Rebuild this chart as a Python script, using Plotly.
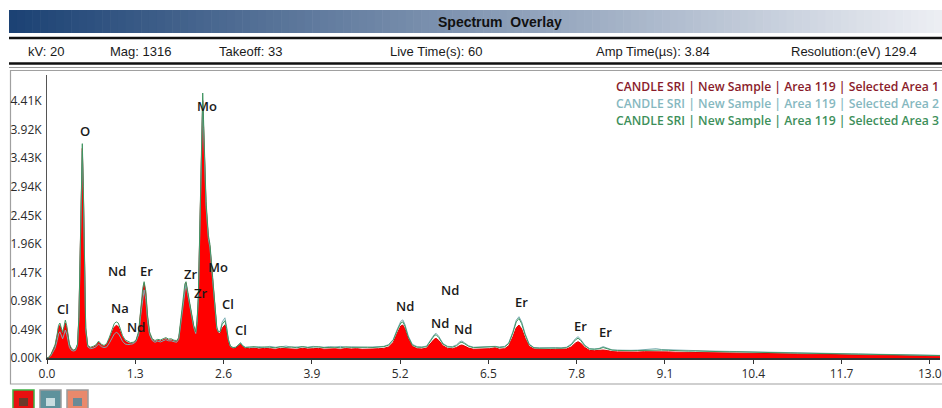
import plotly.graph_objects as go

# ---------------- data ----------------
energy_kev = [
    0.00, 0.03, 0.06, 0.09, 0.12, 0.15, 0.17, 0.19, 0.21, 0.23, 0.25, 0.27, 0.29, 0.31, 0.33, 0.36, 0.39, 0.42, 0.45, 0.47,
    0.49, 0.51, 0.52, 0.535, 0.55, 0.57, 0.60, 0.64, 0.68, 0.72, 0.76, 0.80, 0.84, 0.88, 0.92, 0.96, 0.99, 1.02, 1.05, 1.08,
    1.11, 1.15, 1.19, 1.23, 1.27, 1.31, 1.35, 1.38, 1.41, 1.43, 1.455, 1.48, 1.51, 1.55, 1.59, 1.63, 1.67, 1.71, 1.75, 1.79,
    1.83, 1.87, 1.91, 1.94, 1.97, 2.00, 2.03, 2.047, 2.07, 2.10, 2.13, 2.16, 2.19, 2.21, 2.228, 2.245, 2.264, 2.28, 2.293, 2.305,
    2.317, 2.342, 2.376, 2.40, 2.44, 2.474, 2.50, 2.523, 2.55, 2.58, 2.62, 2.645, 2.67, 2.70, 2.74, 2.78, 2.82, 2.85, 2.88, 2.92,
    2.98, 3.05, 3.12, 3.20, 3.28, 3.36, 3.44, 3.52, 3.60, 3.68, 3.76, 3.84, 3.92, 4.00, 4.08, 4.16, 4.24, 4.32, 4.40, 4.48,
    4.56, 4.64, 4.72, 4.80, 4.88, 4.96, 5.03, 5.10, 5.16, 5.21, 5.24, 5.27, 5.32, 5.38, 5.45, 5.52, 5.59, 5.65, 5.70, 5.73,
    5.77, 5.83, 5.90, 5.97, 6.03, 6.08, 6.11, 6.15, 6.21, 6.28, 6.36, 6.44, 6.52, 6.60, 6.66, 6.74, 6.80, 6.86, 6.91, 6.95,
    6.99, 7.04, 7.10, 7.17, 7.25, 7.33, 7.41, 7.49, 7.57, 7.65, 7.72, 7.78, 7.82, 7.86, 7.92, 7.99, 8.06, 8.13, 8.19, 8.25,
    8.32, 8.40, 8.50, 8.60, 8.70, 8.80, 8.90, 8.97, 9.05, 9.15, 9.25, 9.35, 9.45, 9.55, 9.65, 9.75, 9.85, 9.95, 10.05, 10.15,
    10.25, 10.35, 10.45, 10.55, 10.65, 10.75, 10.85, 10.95, 11.05, 11.15, 11.25, 11.35, 11.45, 11.55, 11.65, 11.75, 11.85, 11.95, 12.05, 12.15,
    12.25, 12.35, 12.45, 12.55, 12.65, 12.75, 12.85, 12.95, 13.05, 13.15,
]

counts_area1 = [
    0, 15, 60, 140, 210, 380, 520, 560, 470, 410, 500, 600, 520, 330, 220, 150, 130, 140, 230, 700,
    1900, 3200, 3600, 2900, 1500, 500, 200, 170, 185, 210, 270, 220, 200, 230, 330, 450, 530, 560, 540, 450,
    360, 290, 260, 250, 255, 290, 430, 800, 1150, 1280, 1100, 700, 420, 310, 280, 300, 290, 310, 330, 305,
    310, 290, 280, 330, 600, 960, 1230, 1290, 1120, 900, 720, 540, 430, 620, 1000, 1800, 2900, 3900, 4420, 4000,
    3450, 2620, 2060, 1900, 1340, 770, 500, 430, 420, 510, 570, 470, 300, 190, 165, 170, 210, 240, 200, 165,
    160, 170, 155, 165, 160, 150, 165, 158, 162, 150, 168, 155, 160, 165, 152, 160, 158, 150, 162, 155,
    160, 150, 158, 155, 160, 165, 190, 270, 430, 550, 566, 500, 330, 200, 160, 155, 170, 250, 320, 338,
    300, 210, 165, 160, 180, 215, 223, 205, 170, 150, 155, 148, 160, 175, 152, 160, 210, 360, 520, 566,
    500, 340, 200, 155, 150, 152, 145, 150, 148, 155, 190, 255, 280, 255, 180, 130, 125, 130, 137, 128,
    110, 105, 100, 105, 102, 108, 110, 112, 108, 105, 100, 98, 95, 97, 92, 90, 92, 88, 85, 86,
    82, 80, 78, 80, 75, 72, 74, 70, 68, 66, 65, 62, 60, 61, 58, 56, 55, 53, 50, 49,
    47, 45, 44, 42, 40, 38, 36, 35, 33, 32,
]

counts_area2 = [
    0, 10, 45, 110, 170, 300, 410, 450, 370, 330, 400, 480, 410, 270, 180, 130, 120, 130, 220, 680,
    1850, 3150, 3550, 2850, 1450, 480, 190, 160, 170, 190, 240, 195, 180, 190, 260, 350, 410, 440, 420, 360,
    290, 240, 230, 235, 245, 280, 400, 730, 1050, 1170, 1010, 650, 400, 300, 270, 290, 275, 300, 315, 295,
    295, 280, 270, 320, 590, 950, 1220, 1280, 1110, 890, 710, 530, 420, 610, 990, 1780, 2870, 3860, 4380, 3960,
    3420, 2600, 2050, 1890, 1330, 780, 510, 450, 460, 620, 690, 540, 320, 200, 175, 185, 230, 265, 215, 185,
    190, 185, 195, 180, 200, 185, 190, 205, 185, 190, 195, 185, 200, 190, 185, 195, 188, 200, 186, 192,
    188, 196, 184, 190, 195, 200, 230, 320, 500, 630, 655, 580, 380, 235, 195, 190, 205, 310, 400, 424,
    370, 250, 200, 195, 225, 280, 292, 260, 210, 185, 190, 185, 195, 200, 190, 200, 260, 450, 650, 709,
    620, 420, 240, 180, 175, 180, 172, 178, 175, 185, 240, 330, 366, 320, 220, 160, 155, 165, 195, 170,
    140, 135, 128, 132, 135, 140, 150, 160, 145, 140, 135, 130, 126, 130, 124, 120, 118, 115, 112, 110,
    108, 106, 104, 100, 98, 96, 95, 92, 90, 87, 85, 82, 80, 78, 76, 74, 72, 70, 68, 66,
    63, 61, 60, 57, 55, 53, 50, 48, 46, 45,
]

counts_area3 = [
    0, 15, 65, 150, 230, 410, 560, 600, 500, 440, 540, 650, 560, 350, 240, 165, 140, 150, 240, 720,
    1950, 3300, 3680, 2950, 1550, 520, 215, 185, 200, 225, 290, 235, 215, 250, 360, 500, 590, 620, 600, 500,
    390, 310, 280, 265, 270, 305, 460, 850, 1200, 1310, 1150, 740, 450, 330, 300, 320, 310, 330, 350, 325,
    330, 305, 300, 350, 630, 990, 1270, 1310, 1150, 930, 745, 560, 450, 650, 1040, 1870, 2980, 4050, 4550, 4100,
    3540, 2690, 2110, 1950, 1380, 800, 530, 455, 450, 580, 640, 510, 320, 205, 180, 185, 225, 255, 210, 180,
    185, 195, 180, 190, 185, 175, 195, 180, 190, 175, 195, 180, 188, 192, 178, 186, 184, 176, 190, 182,
    186, 178, 185, 180, 188, 195, 220, 310, 480, 600, 620, 550, 360, 220, 185, 182, 195, 290, 380, 400,
    350, 240, 190, 185, 210, 260, 270, 245, 200, 178, 182, 175, 188, 195, 180, 190, 250, 430, 620, 680,
    590, 400, 230, 175, 168, 172, 165, 170, 168, 178, 225, 310, 340, 300, 210, 155, 150, 158, 180, 160,
    135, 130, 122, 126, 128, 132, 138, 140, 135, 132, 125, 122, 118, 120, 115, 112, 114, 108, 105, 106,
    102, 100, 96, 98, 92, 90, 91, 86, 84, 82, 80, 78, 75, 74, 72, 70, 68, 66, 63, 62,
    60, 58, 56, 54, 52, 50, 47, 45, 43, 42,
]

series_names = [
    "CANDLE SRI | New Sample | Area 119 | Selected Area 1",
    "CANDLE SRI | New Sample | Area 119 | Selected Area 2",
    "CANDLE SRI | New Sample | Area 119 | Selected Area 3",
]

y_tick_values = [0, 490, 980, 1470, 1960, 2450, 2940, 3430, 3920, 4410]
y_tick_labels = ["0.00K", "0.49K", "0.98K", "1.47K", "1.96K", "2.45K", "2.94K", "3.43K", "3.92K", "4.41K"]
x_tick_values = [0.0, 1.3, 2.6, 3.9, 5.2, 6.5, 7.8, 9.1, 10.4, 11.7, 13.0]

peak_labels = ["O", "Mo", "Nd", "Er", "Na", "Nd", "Cl", "Zr", "Zr", "Mo", "Cl", "Cl",
               "Nd", "Nd", "Nd", "Nd", "Er", "Er", "Er"]
peak_label_kev = [0.56, 2.36, 1.035, 1.458, 1.075, 1.311, 0.24, 2.106, 2.253, 2.523, 2.661, 2.853,
                  5.272, 5.935, 5.788, 6.131, 6.991, 7.86, 8.228]
peak_label_counts = [3894, 4335, 1502, 1490, 862, 536, 845, 1434, 1120, 1559, 919, 489,
                     889, 1164, 604, 506, 958, 558, 450]

info_items = ["kV: 20", "Mag: 1316", "Takeoff: 33", "Live Time(s): 60", "Amp Time(µs): 3.84", "Resolution:(eV) 129.4"]

# ---------------- layout helpers (pixel -> paper) ----------------
W, H = 942, 408
L, R, T, B = 47, 940, 75, 358


def px(x):
    return (x - L) / (R - L)


def py(y):
    return (B - y) / (B - T)


fig = go.Figure()

fig.add_trace(go.Scatter(
    x=energy_kev, y=counts_area1, mode="lines", name=series_names[0],
    line=dict(color="#e00000", width=1), fill="tozeroy", fillcolor="#ff0000",
))
fig.add_trace(go.Scatter(
    x=energy_kev, y=counts_area2, mode="lines", name=series_names[1],
    line=dict(color="#7aaeb4", width=1),
))
fig.add_trace(go.Scatter(
    x=energy_kev, y=counts_area3, mode="lines", name=series_names[2],
    line=dict(color="#3f9460", width=1),
))

shapes = []
# title bar gradient
n_strips = 120
x_start, x_end = 9, 942
c0 = (28, 66, 116)
c1 = (236, 238, 243)
for i in range(n_strips):
    t = i / (n_strips - 1)
    col = tuple(int(round(c0[k] + (c1[k] - c0[k]) * t)) for k in range(3))
    xa = x_start + (x_end - x_start) * i / n_strips
    xb = x_start + (x_end - x_start) * (i + 1) / n_strips + 0.6
    shapes.append(dict(type="rect", xref="paper", yref="paper",
                       x0=px(xa), x1=px(xb), y0=py(33), y1=py(10),
                       fillcolor="rgb(%d,%d,%d)" % col, line=dict(width=0), layer="below"))
# separator lines
shapes.append(dict(type="line", xref="paper", yref="paper", x0=px(9), x1=px(950), y0=py(38), y1=py(38),
                   line=dict(color="#111111", width=2.5)))
shapes.append(dict(type="line", xref="paper", yref="paper", x0=px(9), x1=px(950), y0=py(63.5), y1=py(63.5),
                   line=dict(color="#111111", width=2.5)))
shapes.append(dict(type="line", xref="paper", yref="paper", x0=px(9), x1=px(950), y0=py(67.5), y1=py(67.5),
                   line=dict(color="#9a9a9a", width=1)))
# plot frame
shapes.append(dict(type="rect", xref="paper", yref="paper", x0=px(10.5), x1=px(955), y0=py(384), y1=py(70.5),
                   line=dict(color="#a0a0a0", width=1.2), fillcolor="rgba(0,0,0,0)", layer="below"))
# bottom icons
icons = [((13, 34), "#e81010", "#3cb043", "#6b3a2a"),
         ((40, 61), "#5e929c", "#9a9a9a", "#c8dde0"),
         ((67, 88), "#e9896c", "#9a9a9a", "#6a8a96")]
for (xa, xb), fillc, border, inner in icons:
    shapes.append(dict(type="rect", xref="paper", yref="paper", x0=px(xa), x1=px(xb), y0=py(410), y1=py(390),
                       fillcolor=fillc, line=dict(color=border, width=1.5)))
    shapes.append(dict(type="rect", xref="paper", yref="paper", x0=px(xa + 6), x1=px(xb - 6), y0=py(406), y1=py(398),
                       fillcolor=inner, line=dict(width=0)))

annotations = []
annotations.append(dict(xref="paper", yref="paper", x=px(500), y=py(21.5), text="Spectrum  Overlay",
                        showarrow=False, xanchor="center", yanchor="middle",
                        font=dict(family="Liberation Sans, Arial", size=14, color="#111111", weight="bold")))
info_x = [26, 108, 217, 388, 594, 789]
for txt, xx in zip(info_items, info_x):
    annotations.append(dict(xref="paper", yref="paper", x=px(xx), y=py(51), text=txt, showarrow=False,
                            xanchor="left", yanchor="middle",
                            font=dict(family="Liberation Sans, Arial", size=13, color="#1a1a1a")))
legend_colors = ["#8a1c2b", "#86b8bf", "#3d8f5a"]
legend_y = [87, 103.5, 120]
for name, col, yy in zip(series_names, legend_colors, legend_y):
    annotations.append(dict(xref="paper", yref="paper", x=px(941), y=py(yy), text=name, showarrow=False,
                            xanchor="right", yanchor="middle",
                            font=dict(family="Open Sans", size=12.2, color=col, weight=600)))
for lab, xv, yv in zip(peak_labels, peak_label_kev, peak_label_counts):
    annotations.append(dict(xref="x", yref="y", x=xv, y=yv, text=lab, showarrow=False,
                            xanchor="center", yanchor="middle",
                            font=dict(family="Open Sans", size=13, color="#1a1a1a", weight=600)))

fig.update_layout(
    template="none",
    width=W, height=H, autosize=False,
    margin=dict(l=L, r=W - R, t=T, b=H - B, pad=0, autoexpand=False),
    paper_bgcolor="white", plot_bgcolor="white",
    showlegend=False,
    shapes=shapes, annotations=annotations,
    xaxis=dict(range=[0, 13.15], tickvals=x_tick_values, ticktext=["%.1f" % v for v in x_tick_values],
               automargin=False,
               showgrid=False, zeroline=False, showline=True, linecolor="#333333", linewidth=2,
               ticks="outside", ticklen=4, tickcolor="#333333",
               tickfont=dict(family="Open Sans", size=12, color="#2a2a2a")),
    yaxis=dict(range=[0, 4859], tickvals=y_tick_values, ticktext=y_tick_labels,
               automargin=False,
               showgrid=False, zeroline=False, showline=True, linecolor="#555555", linewidth=1,
               ticks="", ticklabelstandoff=2,
               tickfont=dict(family="Open Sans", size=12, color="#2a2a2a")),
)

fig.write_html(
    "out.html",
    config={"displayModeBar": False},
    post_script="document.body.style.margin='0';document.body.style.padding='0';document.body.style.overflow='hidden';",
)
